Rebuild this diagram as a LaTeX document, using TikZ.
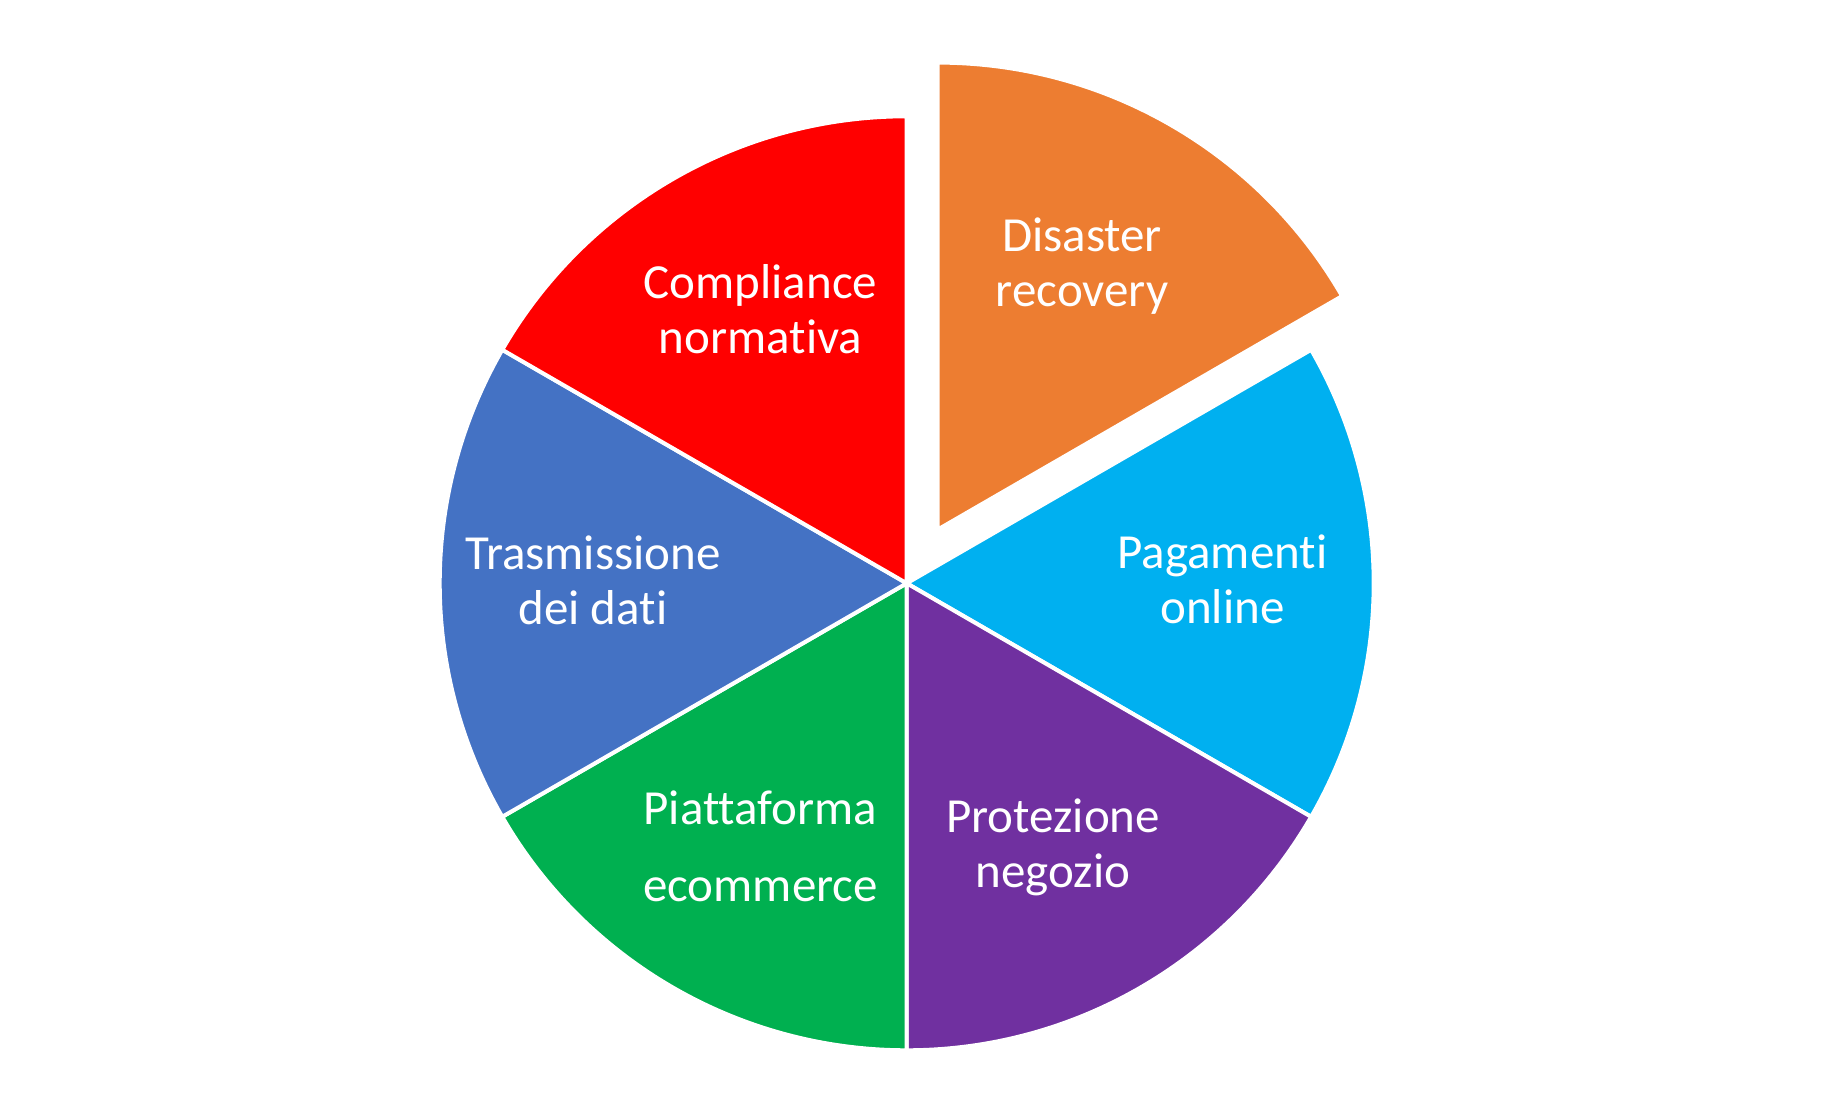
\documentclass[tikz,border=0pt]{standalone}
\usepackage{fontspec}
\setmainfont{Carlito}[Ligatures={NoCommon}]
\usetikzlibrary{calc}
\definecolor{cRed}{HTML}{FF0000}
\definecolor{cOrange}{HTML}{ED7D31}
\definecolor{cCyan}{HTML}{00B0F0}
\definecolor{cPurple}{HTML}{7030A0}
\definecolor{cGreen}{HTML}{00B050}
\definecolor{cBlue}{HTML}{4472C4}
\begin{document}
\begin{tikzpicture}[x=1pt,y=1pt,
  slice/.style={draw=white,line width=4pt,line join=miter},
  lbl/.style={text=white,align=center,anchor=base,inner sep=0pt,
    font=\fontsize{49}{55}\selectfont}]
\useasboundingbox (0,0) rectangle (1843,1116);
\fill[white] (0,0) rectangle (1843,1116);
\coordinate (C) at (906.7,532.7);
\def\R{467}
% slices
\fill[cCyan,slice] (C) -- ++(-30:\R) arc[start angle=-30,end angle=30,radius=\R] -- cycle;
\fill[cPurple,slice] (C) -- ++(-90:\R) arc[start angle=-90,end angle=-30,radius=\R] -- cycle;
\fill[cGreen,slice] (C) -- ++(-150:\R) arc[start angle=-150,end angle=-90,radius=\R] -- cycle;
\fill[cBlue,slice] (C) -- ++(150:\R) arc[start angle=150,end angle=210,radius=\R] -- cycle;
\fill[cRed,slice] (C) -- ++(90:\R) arc[start angle=90,end angle=150,radius=\R] -- cycle;
\coordinate (O) at ($(C)+(60:62)$);
\fill[cOrange,slice] (O) -- ++(30:\R) arc[start angle=30,end angle=90,radius=\R] -- cycle;
% labels (anchored at the baseline of the last line)
\node[lbl] (l1) at (760.5,762.7) {Compliance\\normativa};
\node[lbl] (l2) at (1082,809.3) {Disaster\\recovery};
\node[lbl] (l3) at (1222.5,492.7) {Pagamenti\\online};
\node[lbl] (l4) at (1053,228) {Protezione\\negozio};
\node[lbl] (l5) at (760.5,214.3) {Piattaforma\\[22pt]ecommerce};
\node[lbl] (l6) at (593,491) {Trasmissione\\dei dati};
\end{tikzpicture}
\end{document}
